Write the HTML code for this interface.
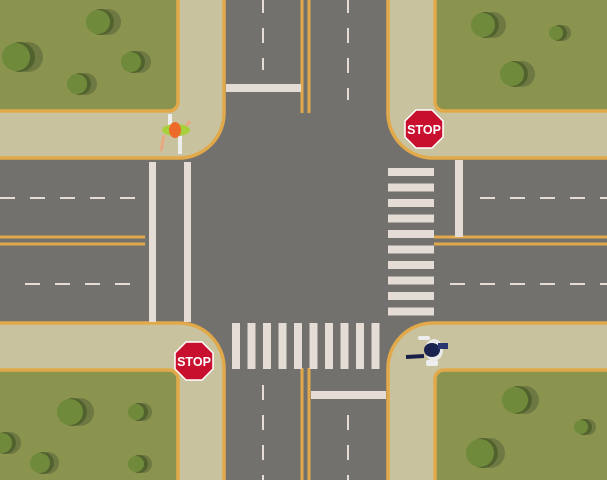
<!DOCTYPE html>
<html><head><style>html,body{margin:0;padding:0;background:#757370}svg{display:block}</style></head><body>
<svg width="607" height="480" viewBox="0 0 607 480" xmlns="http://www.w3.org/2000/svg">
<rect width="607" height="480" fill="#73716e"/>
<!-- sidewalks -->
<g fill="#c8c29f" stroke="#e2a94a" stroke-width="3.5">
<path d="M-5,-5 H224 V113 A45,45 0 0 1 179,158 H-5 Z"/>
<path d="M612,-5 H388 V113 A45,45 0 0 0 433,158 H612 Z"/>
<path d="M-5,485 H224 V368 A45,45 0 0 0 179,323 H-5 Z"/>
<path d="M612,485 H388 V368 A45,45 0 0 1 433,323 H612 Z"/>
</g>
<!-- grass -->
<g fill="#8a944f" stroke="#e2a94a" stroke-width="3.5">
<path d="M-5,-5 H178 V102 A9,9 0 0 1 169,111 H-5 Z"/>
<path d="M612,-5 H435 V102 A9,9 0 0 0 444,111 H612 Z"/>
<path d="M-5,485 H178 V379 A9,9 0 0 0 169,370 H-5 Z"/>
<path d="M612,485 H435 V379 A9,9 0 0 1 444,370 H612 Z"/>
</g>
<g fill="#6b7541" opacity="0.9">
<circle cx="108" cy="22" r="13"/><circle cx="28" cy="57" r="15"/><circle cx="140" cy="62" r="11"/><circle cx="86" cy="84" r="11"/>
<circle cx="493" cy="25" r="13"/><circle cx="563" cy="33" r="8"/><circle cx="522" cy="74" r="13"/>
<circle cx="80" cy="412" r="14"/><circle cx="143" cy="412" r="9"/><circle cx="10" cy="443" r="11"/><circle cx="48" cy="463" r="11"/><circle cx="143" cy="464" r="9"/>
<circle cx="525" cy="400" r="14"/><circle cx="588" cy="427" r="8"/><circle cx="490" cy="453" r="15"/>
</g>
<g fill="#52622f">
<circle cx="101" cy="22" r="13"/><circle cx="20" cy="57" r="15"/><circle cx="134" cy="62" r="11"/><circle cx="80" cy="84" r="11"/>
<circle cx="486" cy="25" r="13"/><circle cx="559" cy="33" r="8"/><circle cx="515" cy="74" r="13"/>
<circle cx="73" cy="412" r="14"/><circle cx="139" cy="412" r="9"/><circle cx="5" cy="443" r="11"/><circle cx="43" cy="463" r="11"/><circle cx="139" cy="464" r="9"/>
<circle cx="518" cy="400" r="14"/><circle cx="584" cy="427" r="8"/><circle cx="483" cy="453" r="15"/>
</g>
<g fill="#6e8a3a">
<circle cx="98" cy="22" r="12"/><circle cx="16" cy="57" r="14"/><circle cx="131" cy="62" r="10"/><circle cx="77" cy="84" r="10"/>
<circle cx="483" cy="25" r="12"/><circle cx="556" cy="33" r="7"/><circle cx="512" cy="74" r="12"/>
<circle cx="70" cy="412" r="13"/><circle cx="136" cy="412" r="8"/><circle cx="2" cy="443" r="10"/><circle cx="40" cy="463" r="10"/><circle cx="136" cy="464" r="8"/>
<circle cx="515" cy="400" r="13"/><circle cx="581" cy="427" r="7"/><circle cx="480" cy="453" r="14"/>
</g>
<!-- yellow center lines -->
<g fill="#e2a94a">
<rect x="300.5" y="0" width="3" height="113"/><rect x="307.5" y="0" width="3" height="113"/>
<rect x="300.5" y="368" width="3" height="112"/><rect x="307.5" y="368" width="3" height="112"/>
<rect x="0" y="235.5" width="145" height="3"/><rect x="0" y="242.5" width="145" height="3"/>
<rect x="434" y="235.5" width="173" height="3"/><rect x="434" y="242.5" width="173" height="3"/>
</g>
<!-- dashes -->
<g stroke="#e6dcd6" stroke-width="2" stroke-dasharray="15,15">
<line x1="263" y1="-2" x2="263" y2="70"/><line x1="348" y1="-2" x2="348" y2="100"/>
<line x1="263" y1="385" x2="263" y2="480"/><line x1="348" y1="415" x2="348" y2="480"/>
<line x1="0" y1="198" x2="135" y2="198"/><line x1="480" y1="198" x2="607" y2="198"/>
<line x1="25" y1="284" x2="135" y2="284"/><line x1="450" y1="284" x2="607" y2="284"/>
</g>
<!-- stop lines / crosswalks -->
<g fill="#e6dcd6">
<rect x="226" y="84" width="75" height="8"/>
<rect x="311" y="391" width="75" height="8"/>
<rect x="149" y="162" width="7" height="160"/><rect x="184" y="162" width="7" height="160"/>
<rect x="455" y="160" width="8" height="77"/>
<rect x="388" y="168" width="46" height="8"/><rect x="388" y="183.5" width="46" height="8"/><rect x="388" y="199" width="46" height="8"/><rect x="388" y="214.5" width="46" height="8"/><rect x="388" y="230" width="46" height="8"/><rect x="388" y="245.5" width="46" height="8"/><rect x="388" y="261" width="46" height="8"/><rect x="388" y="276.5" width="46" height="8"/><rect x="388" y="292" width="46" height="8"/><rect x="388" y="307.5" width="46" height="8"/>
<rect x="232" y="323" width="8" height="46"/><rect x="247.5" y="323" width="8" height="46"/><rect x="263" y="323" width="8" height="46"/><rect x="278.5" y="323" width="8" height="46"/><rect x="294" y="323" width="8" height="46"/><rect x="309.5" y="323" width="8" height="46"/><rect x="325" y="323" width="8" height="46"/><rect x="340.5" y="323" width="8" height="46"/><rect x="356" y="323" width="8" height="46"/><rect x="371.5" y="323" width="8" height="46"/>
</g>
<!-- stop signs -->
<g font-family="Liberation Sans, sans-serif" font-weight="bold" font-size="12.5" text-anchor="middle">
<polygon points="416,110 432,110 443,121 443,137 432,148 416,148 405,137 405,121" fill="#c8102e" stroke="#fff" stroke-width="1.5"/>
<text x="424" y="134" fill="#fff">STOP</text>
<polygon points="186,342 202,342 213,353 213,369 202,380 186,380 175,369 175,353" fill="#c8102e" stroke="#fff" stroke-width="1.5"/>
<text x="194" y="366" fill="#fff">STOP</text>
</g>
<!-- pedestrian 1 -->
<g>
<rect x="168" y="114" width="4" height="14" fill="#eee"/>
<rect x="178" y="136" width="4" height="18" fill="#eee"/>
<line x1="164" y1="135" x2="161" y2="151" stroke="#e8a882" stroke-width="3"/>
<line x1="186" y1="126" x2="190" y2="121" stroke="#e8a882" stroke-width="3"/>
<ellipse cx="176" cy="130" rx="14" ry="6" fill="#a8d03a"/>
<ellipse cx="175" cy="130" rx="6" ry="8" fill="#ec6b2a"/>
</g>
<!-- pedestrian 2 -->
<g>
<rect x="418" y="336" width="12" height="4" rx="2" fill="#eee"/>
<rect x="426" y="360" width="12" height="6" rx="2" fill="#eee"/>
<line x1="406" y1="357" x2="424" y2="356" stroke="#1a1f4a" stroke-width="4"/>
<ellipse cx="434" cy="350" rx="9" ry="11" fill="#eaeaea"/>
<ellipse cx="432" cy="350" rx="8" ry="7" fill="#1a2350"/>
<rect x="438" y="343" width="10" height="6" fill="#2a3470"/>
</g>
</svg>
</body></html>
